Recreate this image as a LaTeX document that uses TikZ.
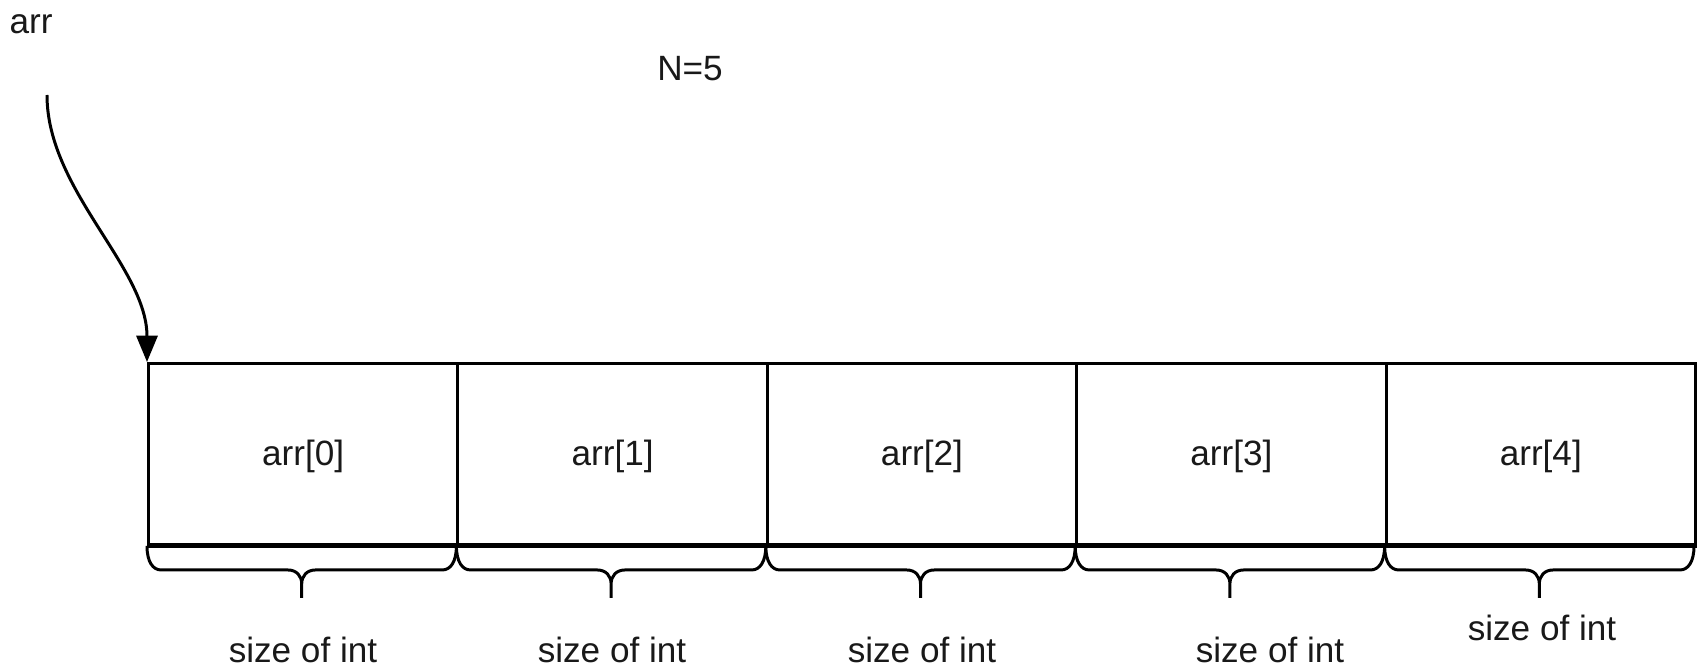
\documentclass[tikz,border=0pt]{standalone}
\usepackage{fontspec}
\setmainfont{Liberation Sans}
\usetikzlibrary{arrows.meta,calc}
\begin{document}
\begin{tikzpicture}[x=0.02cm,y=-0.02cm,
  lbl/.style={font=\fontsize{20}{24}\selectfont, inner sep=0pt, anchor=base, text=black!90},
  cellbox/.style={draw, line width=1.7pt, rectangle, inner sep=0pt, anchor=north west,
    minimum width=6.188cm, minimum height=3.62cm},
  bracepath/.style={draw, line width=1.7pt, line join=round},
  ptr/.style={draw, line width=1.7pt, -{Triangle[width=12pt,length=15pt]}}]
\useasboundingbox (0,0) rectangle (1699,669);
% cells
\foreach \i in {0,...,4} {
  \node[cellbox] (c\i) at ({147+309.4*\i},362) {};
}
\draw[line width=2.4pt] (c0.south west) -- (c4.south east);
% labels in cells
\foreach \i in {0,...,4} {
  \node[lbl] (t\i) at ($(c\i.center)+(0,12)$) {arr[\i]};
}
% braces
\foreach \i in {0,...,4} {
  \draw[bracepath] (c\i.south west) .. controls +(0,16) and +(-8,0) .. ++(14,24)
    -- ++(126.7,0) .. controls +(9,0) and +(0,-8) .. ++(14,14) -- ++(0,14)
    ++(0,-14) .. controls +(0,-8) and +(-9,0) .. ++(14,-14)
    -- ++(126.7,0) .. controls +(8,0) and +(0,16) .. ++(14,-24);
}
% size labels
\node[lbl] (s0) at (303,662) {size of int};
\node[lbl] (s1) at (612,662) {size of int};
\node[lbl] (s2) at (922,662) {size of int};
\node[lbl] (s3) at (1270,662) {size of int};
\node[lbl] (s4) at (1542,640) {size of int};
% top labels
\node[lbl] (arr) at (31,34) {arr};
\node[lbl] (N) at (690,81) {N=5};
% pointer arrow
\coordinate (ps) at (47,95);
\draw[ptr] (ps) .. controls +(0,95) and +(0,-95) .. (c0.north west);
\end{tikzpicture}
\end{document}
